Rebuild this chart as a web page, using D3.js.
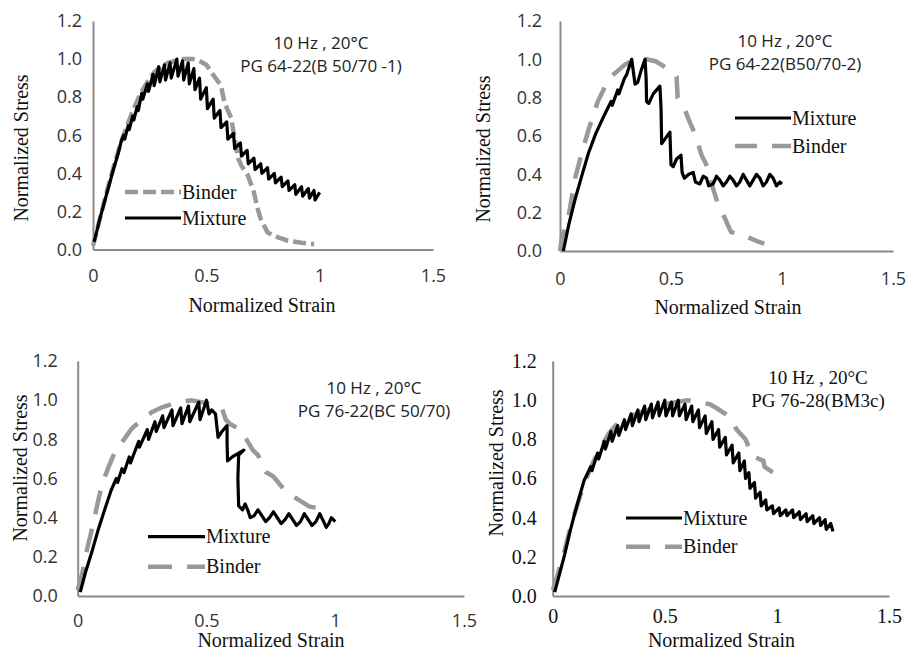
<!DOCTYPE html>
<html>
<head>
<meta charset="utf-8">
<script src="https://cdn.jsdelivr.net/npm/d3@7"></script>
<style>
body{margin:0;background:#fff}
svg{display:block}
.serif{font-family:"Liberation Serif","DejaVu Serif","Times New Roman",Times,serif}
.sans{font-family:"Open Sans","Noto Sans",sans-serif}
</style>
</head>
<body>
<div id="chart"></div>
<script>

// ---- data ----
const strainTicks = [0, 0.5, 1, 1.5];
const stressTicks = [0, 0.2, 0.4, 0.6, 0.8, 1.0, 1.2];
const titleLine1 = "10 Hz , 20°C";
const panelTitles = ["PG 64-22(B 50/70 -1)", "PG 64-22(B50/70-2)", "PG 76-22(BC 50/70)", "PG 76-28(BM3c)"];
const xTitle = "Normalized Strain";
const yTitle = "Normalized Stress";

// [strain, stress]
const mix1 = [[0.005,0.04],[0.03,0.16],[0.06,0.29],[0.09,0.42],[0.11,0.50],[0.125,0.57],[0.135,0.60],[0.14,0.58],[0.155,0.65],[0.16,0.63],[0.175,0.70],[0.18,0.68],[0.195,0.75],[0.20,0.73],[0.215,0.82],[0.22,0.79],[0.24,0.87],[0.245,0.83],[0.265,0.92],[0.27,0.86],[0.29,0.96],[0.295,0.88],[0.315,0.97],[0.32,0.89],[0.34,0.98],[0.345,0.90],[0.37,1.00],[0.375,0.91],[0.395,0.99],[0.40,0.89],[0.42,0.98],[0.425,0.87],[0.445,0.95],[0.45,0.84],[0.47,0.90],[0.475,0.79],[0.50,0.85],[0.505,0.74],[0.53,0.79],[0.535,0.69],[0.56,0.73],[0.565,0.64],[0.59,0.67],[0.595,0.58],[0.62,0.61],[0.625,0.53],[0.65,0.56],[0.655,0.49],[0.68,0.52],[0.685,0.45],[0.71,0.48],[0.715,0.42],[0.74,0.45],[0.745,0.40],[0.77,0.43],[0.775,0.37],[0.80,0.40],[0.805,0.35],[0.83,0.38],[0.835,0.33],[0.86,0.36],[0.865,0.31],[0.89,0.34],[0.895,0.29],[0.92,0.33],[0.925,0.28],[0.95,0.32],[0.955,0.27],[0.975,0.31],[0.98,0.26],[1.0,0.30]];
const bin1 = [[0,0.02],[0.03,0.16],[0.06,0.30],[0.09,0.43],[0.12,0.55],[0.15,0.65],[0.18,0.74],[0.21,0.82],[0.24,0.88],[0.27,0.93],[0.30,0.96],[0.33,0.98],[0.36,0.99],[0.40,1.0],[0.44,1.0],[0.47,0.99],[0.50,0.97],[0.535,0.91],[0.565,0.86],[0.58,0.77],[0.61,0.69],[0.625,0.58],[0.64,0.48],[0.655,0.44],[0.683,0.39],[0.71,0.30],[0.725,0.22],[0.74,0.16],[0.77,0.09],[0.80,0.07],[0.86,0.046],[0.92,0.035],[0.976,0.028]];

const mix2 = [[0.015,0.0],[0.04,0.14],[0.068,0.27],[0.10,0.40],[0.128,0.51],[0.16,0.61],[0.20,0.71],[0.23,0.78],[0.235,0.76],[0.26,0.84],[0.265,0.82],[0.29,0.90],[0.30,0.92],[0.323,1.0],[0.338,0.87],[0.35,0.88],[0.365,0.94],[0.383,1.0],[0.388,0.90],[0.39,0.78],[0.40,0.77],[0.42,0.82],[0.45,0.86],[0.455,0.75],[0.458,0.56],[0.47,0.58],[0.495,0.62],[0.50,0.45],[0.51,0.44],[0.525,0.48],[0.545,0.50],[0.55,0.41],[0.56,0.38],[0.58,0.40],[0.60,0.41],[0.61,0.36],[0.63,0.35],[0.645,0.39],[0.66,0.38],[0.67,0.34],[0.69,0.35],[0.705,0.39],[0.72,0.37],[0.735,0.34],[0.75,0.36],[0.765,0.39],[0.78,0.37],[0.795,0.34],[0.81,0.36],[0.825,0.40],[0.84,0.37],[0.855,0.34],[0.87,0.37],[0.885,0.40],[0.90,0.38],[0.915,0.34],[0.93,0.36],[0.945,0.40],[0.96,0.38],[0.975,0.34],[0.99,0.36],[1.0,0.35]];
const bin2 = [[0.0,0.0],[0.008,0.065],[0.037,0.17],[0.068,0.38],[0.10,0.52],[0.128,0.63],[0.15,0.71],[0.17,0.78],[0.20,0.85],[0.23,0.91],[0.26,0.94],[0.29,0.97],[0.32,0.99],[0.35,1.0],[0.39,1.0],[0.43,0.99],[0.46,0.97],[0.495,0.94],[0.51,0.93],[0.525,0.91],[0.53,0.80],[0.555,0.76],[0.578,0.69],[0.608,0.61],[0.638,0.50],[0.668,0.43],[0.683,0.35],[0.713,0.24],[0.743,0.17],[0.77,0.10],[0.80,0.085],[0.83,0.08],[0.86,0.065],[0.89,0.05],[0.92,0.038]];

const mix3 = [[0.01,0.02],[0.03,0.12],[0.056,0.23],[0.08,0.34],[0.107,0.45],[0.13,0.54],[0.15,0.60],[0.155,0.58],[0.172,0.65],[0.18,0.63],[0.20,0.71],[0.205,0.68],[0.237,0.79],[0.24,0.76],[0.27,0.85],[0.275,0.80],[0.30,0.89],[0.305,0.84],[0.33,0.92],[0.335,0.86],[0.366,0.95],[0.37,0.87],[0.40,0.96],[0.405,0.88],[0.43,0.97],[0.435,0.89],[0.47,0.99],[0.475,0.90],[0.50,1.0],[0.51,0.93],[0.52,0.95],[0.535,0.93],[0.54,0.87],[0.545,0.81],[0.56,0.84],[0.58,0.87],[0.58,0.78],[0.582,0.69],[0.60,0.71],[0.625,0.73],[0.645,0.745],[0.625,0.72],[0.622,0.60],[0.625,0.46],[0.64,0.44],[0.65,0.47],[0.66,0.44],[0.67,0.40],[0.685,0.41],[0.70,0.44],[0.715,0.41],[0.73,0.38],[0.745,0.40],[0.76,0.43],[0.775,0.40],[0.79,0.37],[0.805,0.39],[0.82,0.42],[0.835,0.39],[0.85,0.36],[0.865,0.38],[0.88,0.42],[0.895,0.39],[0.91,0.36],[0.925,0.38],[0.94,0.42],[0.955,0.38],[0.965,0.35],[0.975,0.37],[0.985,0.40],[1.0,0.38]];
const bin3 = [[0,0.03],[0.01,0.08],[0.017,0.11],[0.035,0.23],[0.056,0.345],[0.075,0.46],[0.094,0.57],[0.12,0.66],[0.146,0.74],[0.18,0.80],[0.21,0.855],[0.25,0.90],[0.289,0.94],[0.33,0.965],[0.366,0.98],[0.40,0.99],[0.44,1.0],[0.48,0.99],[0.52,0.98],[0.56,0.96],[0.575,0.90],[0.59,0.88],[0.63,0.85],[0.655,0.80],[0.68,0.745],[0.70,0.72],[0.73,0.634],[0.76,0.61],[0.785,0.57],[0.81,0.53],[0.835,0.51],[0.86,0.49],[0.90,0.456],[0.93,0.45],[0.947,0.42]];

const mix4 = [[0.009,0.02],[0.03,0.11],[0.053,0.21],[0.075,0.32],[0.098,0.42],[0.12,0.51],[0.14,0.59],[0.17,0.66],[0.175,0.64],[0.20,0.73],[0.205,0.70],[0.23,0.79],[0.235,0.75],[0.26,0.84],[0.265,0.79],[0.29,0.87],[0.295,0.82],[0.32,0.90],[0.325,0.85],[0.35,0.93],[0.355,0.87],[0.38,0.95],[0.385,0.89],[0.41,0.97],[0.415,0.90],[0.44,0.98],[0.445,0.91],[0.47,0.99],[0.475,0.92],[0.50,1.0],[0.505,0.92],[0.53,0.99],[0.535,0.92],[0.56,1.0],[0.565,0.92],[0.59,0.98],[0.595,0.90],[0.62,0.97],[0.625,0.89],[0.65,0.95],[0.655,0.86],[0.68,0.92],[0.685,0.83],[0.71,0.89],[0.715,0.80],[0.74,0.85],[0.745,0.76],[0.77,0.81],[0.775,0.72],[0.80,0.77],[0.805,0.68],[0.83,0.73],[0.835,0.64],[0.855,0.69],[0.86,0.60],[0.875,0.63],[0.88,0.55],[0.90,0.58],[0.905,0.50],[0.925,0.53],[0.93,0.46],[0.95,0.49],[0.955,0.44],[0.98,0.46],[0.985,0.42],[1.01,0.45],[1.015,0.41],[1.04,0.44],[1.045,0.41],[1.07,0.44],[1.075,0.40],[1.10,0.43],[1.105,0.39],[1.13,0.42],[1.135,0.38],[1.16,0.41],[1.165,0.37],[1.19,0.40],[1.195,0.36],[1.215,0.39],[1.22,0.34],[1.24,0.37],[1.25,0.33]];
const bin4 = [[0,0.03],[0.02,0.10],[0.05,0.22],[0.075,0.33],[0.10,0.43],[0.125,0.52],[0.15,0.60],[0.175,0.67],[0.20,0.73],[0.225,0.78],[0.25,0.83],[0.28,0.87],[0.31,0.90],[0.35,0.92],[0.40,0.94],[0.45,0.96],[0.50,0.98],[0.55,0.99],[0.60,1.0],[0.65,0.99],[0.70,0.98],[0.73,0.96],[0.77,0.93],[0.80,0.90],[0.82,0.85],[0.86,0.80],[0.875,0.76],[0.885,0.72],[0.92,0.70],[0.94,0.69],[0.945,0.66],[0.97,0.64],[1.0,0.62]];

// ---- layout ----
const W = 911, H = 652;

const panels = [
	{mix:mix1, bin:bin1, title:panelTitles[0], l:93, r:433, b:249.5, t:21, font:"sans", tickSize:18, xPad:20, yPad:11,
	 tx:321, ty:[49,72], xt:[262,305], yt:[21,148], lg:{x:125, w:56, mix:218, bin:192}, dash:"13,5"},
	{mix:mix2, bin:bin2, title:panelTitles[1], l:560, r:893, b:251, t:21, font:"sans", tickSize:18, xPad:21, yPad:18,
	 tx:785, ty:[46.5,69.5], xt:[728,306.5], yt:[482.5,149], lg:{x:735, w:56, mix:118, bin:146}, dash:"22,15"},
	{mix:mix3, bin:bin3, title:panelTitles[2], l:77.7, r:464, b:596, t:361, font:"sans", tickSize:18, xPad:18, yPad:20,
	 tx:374, ty:[394,417], xt:[271,640], yt:[19.5,468], lg:{x:148, w:57, mix:536.7, bin:566.7}, dash:"24,15"},
	{mix:mix4, bin:bin4, title:panelTitles[3], l:552.7, r:889, b:596, t:361, font:"serif", tickSize:20, xPad:13, yPad:16,
	 tx:818, ty:[384,407], xt:[721.5,640], yt:[495.5,463], lg:{x:626, w:56, mix:518, bin:546.7}, dash:"24,15"}
];

const mixColor = "#000";
const binColor = "#999";

const svg = d3.select("#chart").append("svg")
	.attr("width", W)
	.attr("height", H);

svg.append("rect").attr("width", W).attr("height", H).attr("fill", "#fff");

panels.forEach(p => {

	const x = d3.scaleLinear().domain([0, 1.5]).range([p.l, p.r]);
	const y = d3.scaleLinear().domain([0, 1.2]).range([p.b, p.t]);

	const g = svg.append("g");

	const axisX = d3.axisBottom(x)
		.tickValues(strainTicks)
		.tickFormat(d => String(d))
		.tickSize(0)
		.tickSizeOuter(0)
		.tickPadding(p.xPad);

	const axisY = d3.axisLeft(y)
		.tickValues(stressTicks)
		.tickFormat(d3.format(".1f"))
		.tickSize(0)
		.tickSizeOuter(0)
		.tickPadding(p.yPad);

	const gx = g.append("g")
		.attr("transform", `translate(0,${p.b})`)
		.call(axisX);
	const gy = g.append("g")
		.attr("transform", `translate(${p.l},0)`)
		.call(axisY);

	[gx, gy].forEach(a => {
		a.attr("font-family", null).attr("font-size", null);
		a.select(".domain").attr("stroke", "#8a8a8a").attr("stroke-width", 2);
		a.selectAll("text")
			.attr("class", p.font)
			.style("font-size", p.tickSize + "px")
			.attr("fill", p.font === "sans" ? "#333" : "#111");
	});

	const line = d3.line()
		.x(d => x(d[0]))
		.y(d => y(d[1]));

	g.append("path")
		.datum(p.bin)
		.attr("d", line)
		.attr("fill", "none")
		.attr("stroke", binColor)
		.attr("stroke-width", 4.5)
		.attr("stroke-dasharray", p.dash);

	g.append("path")
		.datum(p.mix)
		.attr("d", line)
		.attr("fill", "none")
		.attr("stroke", mixColor)
		.attr("stroke-width", 3.2)
		.attr("stroke-linejoin", "round");

	// title
	[titleLine1, p.title].forEach((s, i) => {
		g.append("text")
			.attr("class", p.font)
			.attr("x", p.tx)
			.attr("y", p.ty[i])
			.attr("text-anchor", "middle")
			.style("font-size", (p.font === "sans" ? 17 : 19) + "px")
			.attr("fill", p.font === "sans" ? "#222" : "#111")
			.text(s);
	});

	// axis titles
	g.append("text")
		.attr("class", "serif")
		.attr("x", p.xt[0])
		.attr("y", p.xt[1])
		.attr("dy", "0.35em")
		.attr("text-anchor", "middle")
		.style("font-size", "20px")
		.attr("fill", "#111")
		.text(xTitle);

	g.append("text")
		.attr("class", "serif")
		.attr("transform", `translate(${p.yt[0]},${p.yt[1]}) rotate(-90)`)
		.attr("dy", "0.35em")
		.attr("text-anchor", "middle")
		.style("font-size", "20px")
		.attr("fill", "#111")
		.text(yTitle);

	// legend
	const rows = [
		{name:"Mixture", y:p.lg.mix, color:mixColor, w:3.2, dash:null},
		{name:"Binder", y:p.lg.bin, color:binColor, w:4.5, dash:p.dash}
	];
	rows.forEach(r => {
		g.append("line")
			.attr("x1", p.lg.x)
			.attr("x2", p.lg.x + p.lg.w)
			.attr("y1", r.y)
			.attr("y2", r.y)
			.attr("stroke", r.color)
			.attr("stroke-width", r.w)
			.attr("stroke-dasharray", r.dash);
		g.append("text")
			.attr("class", "serif")
			.attr("x", p.lg.x + p.lg.w + 1)
			.attr("y", r.y)
			.attr("dy", "0.33em")
			.style("font-size", "20px")
			.attr("fill", "#111")
			.text(r.name);
	});
});

</script>
</body>
</html>
